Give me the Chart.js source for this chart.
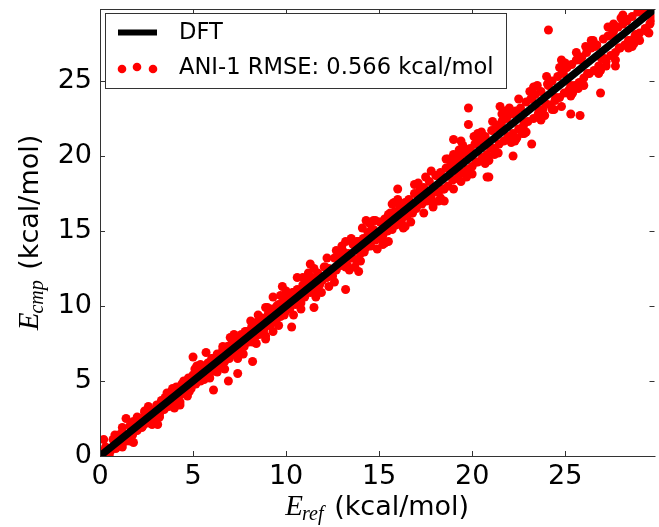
<!DOCTYPE html>
<html>
<head>
<meta charset="utf-8">
<script src="https://cdn.jsdelivr.net/npm/chart.js@4.4.1/dist/chart.umd.min.js"></script>
<style>
  html, body { margin: 0; padding: 0; background: #fff; }
  #wrap { width: 659px; height: 527px; }
</style>
</head>
<body>
<div id="wrap"><canvas id="myChart" width="659" height="527"></canvas></div>
<script>
// axis range + ticks (kcal/mol)
const axisMax = 29.8
const tickVals = [0, 5, 10, 15, 20, 25]

// legend labels
const lineLabel = 'DFT'
const scatterLabel = 'ANI-1 RMSE: 0.566 kcal/mol'

// main band of points: reference energy / computed energy
const refCore = [
  0.05,0.2,0.3,0.45,0.6,0.7,0.85,0.95,1.1,1.2,1.35,1.5,1.6,1.75,1.9,2.0,2.15,2.3,2.4,2.55,2.7,2.8,2.95,
  3.05,3.2,3.3,3.45,3.6,3.7,3.85,3.95,4.1,4.2,4.35,4.5,4.6,4.75,4.9,5.0,5.15,5.3,5.4,5.55,5.7,5.8,5.95,
  6.05,6.2,6.3,6.45,6.6,6.7,6.85,6.95,7.1,7.2,7.35,7.5,7.6,7.75,7.9,8.0,8.15,8.3,8.4,8.55,8.7,8.8,8.95,
  9.05,9.2,9.3,9.45,9.6,9.7,9.85,9.95,10.1,10.2,10.35,10.5,10.6,10.75,10.9,11.0,11.15,11.3,11.4,11.55,11.7,11.8,11.95,
  12.05,12.2,12.3,12.45,12.6,12.7,12.85,12.95,13.1,13.2,13.35,13.5,13.6,13.75,13.9,14.0,14.15,14.3,14.4,14.55,14.7,14.8,14.95,
  15.05,15.2,15.3,15.45,15.6,15.7,15.85,15.95,16.1,16.2,16.35,16.5,16.6,16.75,16.9,17.0,17.15,17.3,17.4,17.55,17.7,17.8,17.95,
  18.05,18.2,18.3,18.45,18.6,18.7,18.85,18.95,19.1,19.2,19.35,19.5,19.6,19.75,19.9,20.0,20.15,20.3,20.4,20.55,20.7,20.8,20.95,
  21.05,21.2,21.3,21.45,21.6,21.7,21.85,21.95,22.1,22.2,22.35,22.5,22.6,22.75,22.9,23.0,23.15,23.3,23.4,23.55,23.7,23.8,23.95,
  24.05,24.2,24.3,24.45,24.6,24.7,24.85,24.95,25.1,25.2,25.35,25.5,25.6,25.75,25.9,26.0,26.15,26.3,26.4,26.55,26.7,26.8,26.95,
  27.05,27.2,27.3,27.45,27.6,27.7,27.85,27.95,28.1,28.2,28.35,28.5,28.6,28.75,28.9,29.0,29.15,29.3,29.4,29.55,29.7
]
const cmpCore = [
  0.3,0.0,0.6,0.2,0.4,1.1,0.5,1.3,0.8,1.6,1.0,1.2,2.0,1.4,2.3,1.7,2.5,2.0,2.9,2.2,3.1,2.5,2.6,
  3.4,2.8,3.7,3.1,4.0,3.3,4.3,3.5,4.6,3.8,4.1,5.0,4.2,5.2,4.5,5.4,4.8,5.7,5.0,5.9,5.3,6.2,5.6,
  6.5,5.8,6.8,6.0,7.1,6.3,7.3,6.5,7.6,6.8,7.8,7.1,8.1,7.3,8.3,7.6,8.6,7.8,8.9,8.1,9.2,8.4,8.7,
  9.5,8.8,9.8,9.0,10.1,9.3,10.3,9.6,10.6,9.8,10.9,10.1,11.1,10.3,11.4,10.6,11.6,10.9,11.9,11.1,12.2,11.4,11.7,
  12.6,11.9,12.5,12.0,13.2,12.4,13.0,12.7,13.6,12.6,13.5,13.2,14.1,13.1,14.3,13.5,14.5,13.9,14.9,14.0,15.1,14.4,14.6,
  15.6,14.7,15.8,15.0,16.2,15.1,16.3,15.5,16.7,15.7,16.8,16.0,17.1,16.2,17.5,16.5,17.6,16.8,17.9,17.0,18.3,17.2,17.6,
  18.7,17.6,18.9,17.8,19.2,18.0,19.4,18.4,19.7,18.5,19.9,18.9,20.2,19.1,20.5,19.3,20.8,19.6,21.0,19.9,21.3,20.1,20.6,
  21.7,20.5,21.9,20.8,22.3,21.0,22.5,21.3,22.8,21.5,23.0,21.8,23.2,22.0,23.6,22.3,23.8,22.5,24.1,22.8,24.3,23.1,23.5,
  24.8,23.4,25.0,23.7,25.3,23.9,25.6,24.2,25.9,24.4,26.1,24.7,26.4,24.9,26.6,25.2,26.9,25.5,27.2,25.7,27.4,26.0,26.5,
  27.8,26.3,28.0,26.7,28.3,26.9,28.6,27.2,28.8,27.4,29.1,27.7,29.3,28.0,29.6,28.2,29.7,28.5,29.9,28.8,29.2
]

// extra points filling the band
const refFill = [
  0.5,1.0,1.4,1.8,2.25,2.6,3.0,3.5,3.9,4.4,4.8,5.25,5.6,6.0,6.5,6.9,7.3,7.8,8.2,8.6,
  9.1,9.5,9.9,10.4,10.8,11.2,11.6,12.1,12.5,12.9,13.3,13.8,14.2,14.6,15.1,15.5,15.9,16.4,16.8,17.2,
  17.6,18.1,18.5,18.9,19.3,19.8,20.2,20.6,21.1,21.5,21.9,22.3,22.8,23.2,23.6,24.1,24.5,24.9,25.3,25.8,
  26.2,26.6,27.1,27.5,27.9,28.3,28.8,29.2,29.6
]
const cmpFill = [
  0.1,1.4,1.0,2.3,1.9,3.1,2.5,3.9,3.5,4.8,4.3,5.8,5.1,6.5,6.1,7.3,6.8,8.3,7.6,9.1,
  8.7,10.0,9.4,10.9,10.2,11.8,11.0,12.6,12.0,13.5,12.7,14.3,13.6,15.1,14.5,16.1,15.4,16.9,16.2,17.8,
  17.1,18.7,17.8,19.5,18.8,20.4,19.6,21.2,20.5,22.1,21.2,22.9,22.2,23.8,23.0,24.7,23.9,25.5,24.7,26.4,
  25.5,27.3,26.5,28.1,27.2,29.0,28.1,29.8,28.9
]

// wider spread at the edges of the band
const refWide = [
  0.8,1.6,2.4,3.2,3.9,4.7,5.4,6.3,7.0,7.7,8.5,9.3,10.0,10.8,11.5,12.3,13.0,13.7,14.5,15.3,
  16.0,16.7,17.5,18.3,19.0,19.7,20.5,21.2,22.0,22.7,23.5,24.3,25.0,25.7,26.5,27.2,28.0,28.7,29.4,
  1.2,2.0,2.8,3.6,4.3,5.1,5.9,6.6,7.4,8.1,8.9,9.7,10.4,11.2,11.9,12.7,13.4,14.1,14.9,15.7,
  16.4,17.1,17.9,18.7,19.4,20.1,20.9,21.6,22.4,23.1,23.9,24.7,25.4,26.1,26.9,27.6,28.4,29.1
]
const cmpWide = [
  1.4,1.0,3.0,2.6,4.5,4.0,6.1,5.6,7.9,6.8,9.4,8.3,11.0,9.8,12.5,11.3,14.0,12.6,15.5,14.2,
  17.1,15.6,18.6,17.2,20.1,18.6,21.6,20.1,23.2,21.5,24.7,23.1,26.2,24.5,27.7,26.0,29.2,27.5,28.3,
  0.6,2.6,2.1,4.2,3.6,5.8,5.2,7.3,6.5,9.0,8.0,10.7,9.4,12.2,10.9,13.7,12.4,15.2,13.8,16.8,
  15.3,18.2,16.8,19.8,18.3,21.3,19.7,22.8,21.2,24.3,22.7,25.9,24.2,27.3,25.7,28.8,27.2,29.9
]

// ragged outer edge, wider toward high energies
const refEdge = [
  2.6,4.0,5.2,6.7,7.2,8.4,9.0,9.6,10.9,11.6,12.2,12.6,13.5,14.0,14.7,15.2,15.8,16.3,16.9,17.4,
  17.8,18.2,18.6,19.0,19.5,20.0,20.3,20.7,21.1,21.4,21.8,22.1,22.5,22.9,23.3,23.7,24.0,24.4,24.9,25.3,
  25.6,26.0,26.4,26.8,27.3,27.7,28.1,28.6,29.0,29.5
]
const cmpEdge = [
  3.3,3.2,6.0,5.8,8.1,7.5,9.9,8.7,11.9,10.6,13.2,11.6,14.5,13.0,15.7,14.1,16.9,15.2,18.1,16.2,
  19.0,17.0,19.8,17.8,20.7,18.8,21.5,19.5,22.3,20.2,23.0,20.9,23.8,21.6,24.6,22.4,25.3,23.1,26.2,24.0,
  26.9,24.7,27.7,25.5,28.6,26.4,29.4,27.3,27.7,28.2
]

// points away from the band
const refOut = [
  24.1,19.8,24.8,26.9,19.8,25.8,25.3,24.8,20.8,22.2,22.3,23.2,22.8,19.0,19.3,21.5,27.7,28.4,
  13.2,10.3,10.6,13.9,15.5,16.0,18.5,17.9,11.5,14.3,14.8,13.2,11.3,9.3,9.8,
  5.0,5.7,6.1,6.9,7.4,8.2,4.3,1.4,0.2,8.9,8.9,3.1,1.8,1.2,20.9,19.4
]
const cmpOut = [
  28.4,23.2,26.4,24.2,22.1,22.7,22.8,23.3,18.6,20.0,21.0,20.8,21.5,21.1,20.4,23.3,26.0,27.7,
  11.1,8.6,11.9,12.3,14.3,17.8,17.0,16.6,9.9,15.7,15.7,14.3,12.8,10.6,11.3,
  6.6,6.9,4.4,5.0,5.5,6.3,3.4,2.5,1.1,9.9,7.8,2.1,0.9,1.9,18.6,21.0
]

const sans = "'DejaVu Sans', sans-serif"
const serif = "'Liberation Serif', 'DejaVu Serif', serif"

let toPoints = (refs, cmps) => refs.map((r, i) => ({ x: r, y: cmps[i] }))

// frame, inward ticks, axis titles, legend
const decor = {
  id: 'decor',
  afterDraw(chart) {
    const ctx = chart.ctx
    const a = chart.chartArea
    const xs = chart.scales.x
    const ys = chart.scales.y
    ctx.save()

    // spines (right one falls just outside the canvas)
    ctx.strokeStyle = '#333'
    ctx.lineWidth = 1
    ctx.beginPath()
    ctx.moveTo(a.left + 0.5, a.top + 0.5)
    ctx.lineTo(a.left + 0.5, a.bottom + 0.5)
    ctx.lineTo(a.right + 1, a.bottom + 0.5)
    ctx.moveTo(a.left + 0.5, a.top + 0.5)
    ctx.lineTo(a.right + 1, a.top + 0.5)
    ctx.stroke()

    // ticks pointing in, all four sides
    ctx.beginPath()
    tickVals.forEach(v => {
      let px = Math.round(xs.getPixelForValue(v)) + 0.5
      ctx.moveTo(px, a.bottom); ctx.lineTo(px, a.bottom - 5)
      ctx.moveTo(px, a.top); ctx.lineTo(px, a.top + 5)
      let py = Math.round(ys.getPixelForValue(v)) + 0.5
      ctx.moveTo(a.left, py); ctx.lineTo(a.left + 5, py)
      ctx.moveTo(a.right, py); ctx.lineTo(a.right - 5, py)
    })
    ctx.stroke()

    // axis titles with math-style E
    let drawTitle = (sub, cx, baseY) => {
      ctx.fillStyle = '#000'
      ctx.textBaseline = 'alphabetic'
      ctx.textAlign = 'left'
      ctx.font = 'italic 29px ' + serif
      let wE = ctx.measureText('E').width
      ctx.font = 'italic 20px ' + serif
      let wS = ctx.measureText(sub).width
      ctx.font = '27px ' + sans
      let wU = ctx.measureText(' (kcal/mol)').width
      let x0 = cx - (wE + wS + 1 + wU) / 2
      ctx.font = 'italic 29px ' + serif
      ctx.fillText('E', x0, baseY)
      ctx.font = 'italic 20px ' + serif
      ctx.fillText(sub, x0 + wE - 1, baseY + 5)
      ctx.font = '27px ' + sans
      ctx.fillText(' (kcal/mol)', x0 + wE + wS + 1, baseY)
    }
    drawTitle('ref', (a.left + a.right) / 2, 515)
    ctx.save()
    ctx.translate(38, (a.top + a.bottom) / 2)
    ctx.rotate(-Math.PI / 2)
    drawTitle('cmp', 0, 0)
    ctx.restore()

    // legend box
    ctx.fillStyle = '#fff'
    ctx.fillRect(105, 13, 401, 75)
    ctx.strokeStyle = '#333'
    ctx.lineWidth = 1
    ctx.strokeRect(105.5, 13.5, 401, 75)
    ctx.strokeStyle = '#000'
    ctx.lineWidth = 6
    ctx.beginPath()
    ctx.moveTo(118, 32.5); ctx.lineTo(157, 32.5)
    ctx.stroke()
    ctx.fillStyle = 'red'
    ;[122, 137, 153].forEach((dx, i) => {
      ctx.beginPath()
      ctx.arc(dx, i == 1 ? 67 : 69, 4.3, 0, Math.PI * 2)
      ctx.fill()
    })
    ctx.fillStyle = '#000'
    ctx.font = '22.6px ' + sans
    ctx.textBaseline = 'middle'
    ctx.fillText(lineLabel, 179, 33)
    ctx.fillText(scatterLabel, 179, 68)

    ctx.restore()
  }
}

let plot = () => {
  const ctx = document.getElementById('myChart')

  const dataset = {
    datasets: [{
      type: 'line',
      label: lineLabel,
      data: [{ x: 0, y: 0 }, { x: axisMax, y: axisMax }],
      borderColor: '#000',
      borderWidth: 7.5,
      pointRadius: 0,
      fill: false,
      order: 0
    }, {
      type: 'scatter',
      label: scatterLabel,
      data: toPoints(refCore, cmpCore)
        .concat(toPoints(refFill, cmpFill))
        .concat(toPoints(refWide, cmpWide))
        .concat(toPoints(refEdge, cmpEdge))
        .concat(toPoints(refOut, cmpOut)),
      backgroundColor: '#ff0000',
      borderWidth: 0,
      pointRadius: 4.5,
      order: 1
    }]
  }

  const config = {
    type: 'scatter',
    data: dataset,
    options: {
      responsive: false,
      animation: false,
      events: [],
      layout: { padding: { top: 9, right: 0, left: 0, bottom: 0 } },
      plugins: { legend: { display: false }, tooltip: { enabled: false } },
      scales: {
        x: {
          type: 'linear',
          min: 0,
          max: axisMax,
          afterBuildTicks: s => { s.ticks = tickVals.map(v => ({ value: v })) },
          afterFit: s => { s.height = 71; s.paddingLeft = 0; s.paddingRight = 0 },
          grid: { display: false, drawTicks: false },
          border: { display: false },
          ticks: { color: '#000', padding: 5, maxRotation: 0, font: { family: sans, size: 27 } }
        },
        y: {
          type: 'linear',
          min: 0,
          max: axisMax,
          afterBuildTicks: s => { s.ticks = tickVals.map(v => ({ value: v })) },
          afterFit: s => { s.width = 100; s.paddingTop = 0; s.paddingBottom = 0 },
          grid: { display: false, drawTicks: false },
          border: { display: false },
          ticks: { color: '#000', padding: 8, font: { family: sans, size: 27 } }
        }
      }
    },
    plugins: [decor]
  }

  const chart = new Chart(ctx, config)
}

plot()
</script>
</body>
</html>
